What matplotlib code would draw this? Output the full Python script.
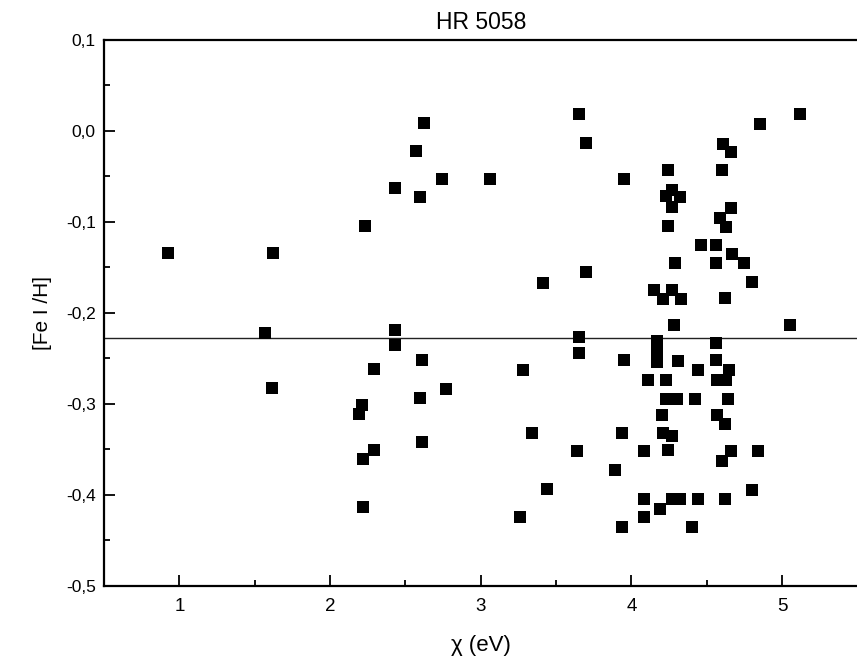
import matplotlib
matplotlib.use("Agg")
import matplotlib.pyplot as plt
from matplotlib.ticker import MultipleLocator, FuncFormatter

plt.rcParams['font.family'] = ['Liberation Sans Narrow', 'Liberation Sans', 'DejaVu Sans']

# excitation potential (eV) of each Fe I line
chi = [
    0.925, 1.62, 1.57, 1.615, 2.23, 2.43, 2.43, 2.43, 2.29, 2.21,
    2.19, 2.29, 2.22, 2.22, 2.62, 2.57, 2.74, 2.60, 2.61, 2.60,
    2.77, 2.61, 3.06, 3.28, 3.34, 3.41, 3.44, 3.26, 3.65, 3.70,
    3.70, 3.65, 3.65, 3.64, 3.95, 3.95, 3.94, 3.89, 3.94, 4.08,
    4.08, 4.08, 4.11, 4.17, 4.17, 4.17, 4.15, 4.27, 4.21, 4.33,
    4.24, 4.23, 4.27, 4.27, 4.32, 4.24, 4.29, 4.28, 4.31, 4.23,
    4.23, 4.30, 4.20, 4.21, 4.27, 4.24, 4.27, 4.32, 4.19, 4.40,
    4.44, 4.42, 4.44, 4.46, 4.56, 4.56, 4.56, 4.56, 4.57, 4.57,
    4.60, 4.60, 4.61, 4.66, 4.66, 4.59, 4.63, 4.67, 4.62, 4.65,
    4.63, 4.64, 4.62, 4.66, 4.62, 4.75, 4.80, 4.84, 4.80, 4.85,
    5.12, 5.05,
]

# abundance [Fe I/H] from each line
fe_h = [
    -0.134, -0.134, -0.222, -0.282, -0.104, -0.063, -0.219, -0.235, -0.262, -0.301,
    -0.311, -0.351, -0.361, -0.413, 0.009, -0.022, -0.053, -0.073, -0.252, -0.293,
    -0.283, -0.342, -0.053, -0.263, -0.332, -0.167, -0.393, -0.424, 0.019, -0.013,
    -0.155, -0.226, -0.244, -0.352, -0.053, -0.252, -0.332, -0.373, -0.435, -0.352,
    -0.404, -0.424, -0.274, -0.231, -0.244, -0.254, -0.175, -0.175, -0.185, -0.185,
    -0.043, -0.071, -0.065, -0.083, -0.073, -0.104, -0.145, -0.213, -0.253, -0.274,
    -0.294, -0.294, -0.312, -0.332, -0.335, -0.351, -0.404, -0.404, -0.415, -0.435,
    -0.263, -0.294, -0.404, -0.125, -0.125, -0.145, -0.233, -0.252, -0.274, -0.312,
    -0.363, -0.043, -0.014, -0.023, -0.085, -0.096, -0.105, -0.135, -0.184, -0.263,
    -0.274, -0.294, -0.322, -0.352, -0.404, -0.145, -0.166, -0.352, -0.394, 0.008,
    0.019, -0.213,
]

mean_fe_h = -0.228

fig = plt.figure(figsize=(8.57, 6.71), dpi=100)
ax = fig.add_axes([0.1214, 0.1267, 0.8792, 0.8137])

ax.plot(chi, fe_h, linestyle='none', marker='s', markersize=9,
        color='black', markeredgewidth=0)
ax.axhline(mean_fe_h, color='#222222', linewidth=1.0, zorder=1)

ax.set_xlim(0.5, 5.5)
ax.set_ylim(-0.5, 0.1)

ax.xaxis.set_major_locator(MultipleLocator(1))
ax.xaxis.set_minor_locator(MultipleLocator(0.5))
ax.yaxis.set_major_locator(MultipleLocator(0.1))
ax.yaxis.set_minor_locator(MultipleLocator(0.05))


def comma_fmt(v, pos):
    s = f"{v:.1f}"
    if s == "-0.0":
        s = "0.0"
    return s.replace('.', ',')


ax.yaxis.set_major_formatter(FuncFormatter(comma_fmt))

ax.tick_params(which='both', direction='in', top=False, right=False, width=1.3)
ax.tick_params(which='major', length=8)
ax.tick_params(which='minor', length=4)
ax.tick_params(axis='x', labelsize=13.5, pad=9)
ax.tick_params(axis='y', labelsize=12.5, pad=6)

for side in ('left', 'bottom', 'top'):
    ax.spines[side].set_linewidth(1.6)
ax.spines['right'].set_visible(False)

ax.set_title("HR 5058", fontsize=16.5, pad=8)
ax.set_xlabel("χ (eV)", fontsize=16, labelpad=14)
ax.set_ylabel("[Fe I /H]", fontsize=15, labelpad=10)

fig.savefig("out.png", dpi=100)
